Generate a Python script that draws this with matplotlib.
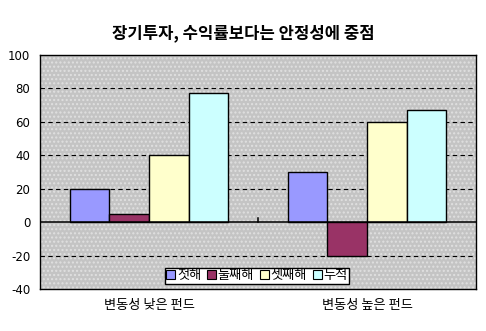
import matplotlib
matplotlib.use("Agg")
import matplotlib.pyplot as plt
import numpy as np
from matplotlib.patches import Rectangle, Patch

plt.rcParams['font.family'] = ['Noto Sans CJK KR', 'DejaVu Sans']
plt.rcParams['hatch.linewidth'] = 1.0

title = "장기투자, 수익률보다는 안정성에 중점"
categories = ["변동성 낮은 펀드", "변동성 높은 펀드"]
series_names = ["첫해", "둘째해", "셋째해", "누적"]
values = {
    "첫해": [20, 30],
    "둘째해": [5, -20],
    "셋째해": [40, 60],
    "누적": [77, 67],
}
colors = ["#9999FF", "#993366", "#FFFFCC", "#CCFFFF"]
yticks = [-40, -20, 0, 20, 40, 60, 80, 100]

fig = plt.figure(figsize=(4.86, 3.31), dpi=100)
fig.patch.set_facecolor("white")
ax = fig.add_axes([40/486, (331-289)/331, 436/486, 234/331])
ax.set_facecolor("#c4c4c4")
ax.add_patch(Rectangle((0, 0), 1, 1, transform=ax.transAxes, facecolor="none",
                       edgecolor="#e0e0e0", hatch="....", lw=0, zorder=0))

x = np.arange(len(categories))
width = 1 / 5.5
for i, (name, c) in enumerate(zip(series_names, colors)):
    ax.bar(x + (i - 1.5) * width, values[name], width=width, color=c,
           edgecolor="black", linewidth=1.0, label=name, zorder=3)

ax.set_xlim(-0.5, 1.5)
ax.set_ylim(-40, 100)
ax.set_yticks(yticks)
ax.set_yticklabels([str(v) for v in yticks], fontsize=8.5, family=['Liberation Sans Narrow', 'DejaVu Sans'])
for v in yticks:
    if v not in (0, -40, 100):
        ax.axhline(v, color="black", lw=0.8, ls=(0, (4, 3)), zorder=1)
ax.axhline(0, color="black", lw=1.1, zorder=4)
ax.plot([0.5, 0.5], [0, 2.5], color="black", lw=1.1, zorder=4)

ax.set_xticks(x)
ax.set_xticklabels(categories, fontsize=9.5)
ax.tick_params(axis="x", length=0, pad=7)
ax.tick_params(axis="y", length=0, pad=7)
for s in ax.spines.values():
    s.set_color("black")
    s.set_linewidth(1.0)

handles = [Patch(facecolor=c, edgecolor="black", linewidth=0.8) for c in colors]
leg = ax.legend(handles, series_names, loc="center", bbox_to_anchor=(0.498, 0.056),
                ncol=4, fontsize=9.5, frameon=True, fancybox=False, handlelength=0.65,
                handleheight=0.65, handletextpad=0.15, columnspacing=0.45,
                borderpad=0.1, borderaxespad=0)
leg.get_frame().set_edgecolor("black")
leg.get_frame().set_linewidth(1.0)
leg.get_frame().set_facecolor("white")
leg.get_frame().set_alpha(1)
leg.set_zorder(5)

fig.text(243/486, 1 - 33/331, title, ha="center", va="center", fontsize=12, fontweight="bold")

fig.savefig("out.png", dpi=100)
